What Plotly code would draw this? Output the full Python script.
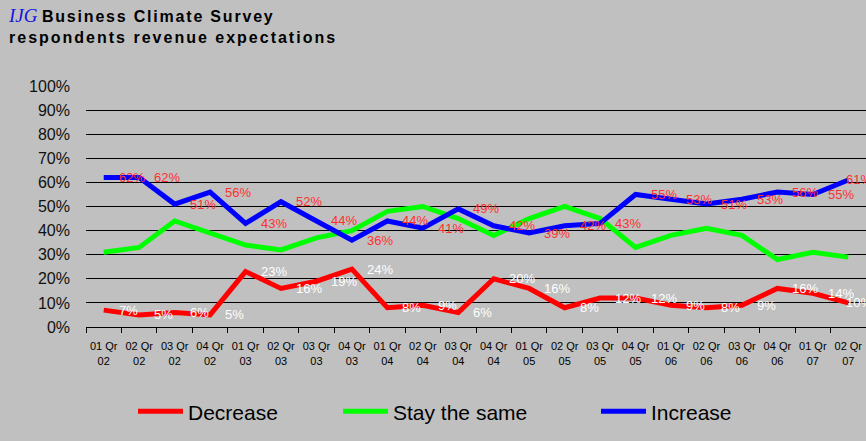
import plotly.graph_objects as go

quarters = ["01 Qr<br>02", "02 Qr<br>02", "03 Qr<br>02", "04 Qr<br>02",
            "01 Qr<br>03", "02 Qr<br>03", "03 Qr<br>03", "04 Qr<br>03",
            "01 Qr<br>04", "02 Qr<br>04", "03 Qr<br>04", "04 Qr<br>04",
            "01 Qr<br>05", "02 Qr<br>05", "03 Qr<br>05", "04 Qr<br>05",
            "01 Qr<br>06", "02 Qr<br>06", "03 Qr<br>06", "04 Qr<br>06",
            "01 Qr<br>07", "02 Qr<br>07"]
decrease = [7, 5, 6, 5, 23, 16, 19, 24, 8, 9, 6, 20, 16, 8, 12, 12, 9, 8, 9, 16, 14, 10]
stay_same = [31, 33, 44, 39, 34, 32, 37, 40, 48, 50, 45, 38, 45, 50, 45, 33, 38, 41, 38, 28, 31, 29]
increase = [62, 62, 51, 56, 43, 52, 44, 36, 44, 41, 49, 42, 39, 42, 43, 55, 53, 51, 53, 56, 55, 61]
y_ticks = [0, 10, 20, 30, 40, 50, 60, 70, 80, 90, 100]

BG = "#C0C0C0"
FONT = "Liberation Sans, Arial, sans-serif"

fig = go.Figure()
fig.add_trace(go.Scatter(x=quarters, y=decrease, mode="lines", name="Decrease",
                         line=dict(color="#FF0000", width=5), legendwidth=145))
fig.add_trace(go.Scatter(x=quarters, y=stay_same, mode="lines", name="Stay the same",
                         line=dict(color="#00FF00", width=5), legendwidth=198))
fig.add_trace(go.Scatter(x=quarters, y=increase, mode="lines", name="Increase",
                         line=dict(color="#0000FF", width=5)))

annotations = []
last = len(quarters) - 1
for series, color in ((increase, "#FF3030"), (decrease, "#FFFFFF")):
    for i, (q, v) in enumerate(zip(quarters, series)):
        # the last labels are pulled in against the chart edge, as in the original
        shift = 13 if i < last else -4
        annotations.append(dict(x=q, y=v, xref="x", yref="y", text=f"{v}%", showarrow=False,
                                xanchor="left", yanchor="middle", xshift=shift,
                                font=dict(family=FONT, size=13, color=color)))

# title
annotations.append(dict(xref="paper", yref="paper", x=(6 - 86) / 780, y=(327 - 16) / 241,
                        xanchor="left", yanchor="middle", showarrow=False,
                        text="<span style='font-family:Liberation Serif, Times New Roman, serif; font-size:19px; color:#1515E0'><i>IJG</i></span> <span style='letter-spacing:1.8px'><b>Business Climate Survey</b></span>",
                        font=dict(family=FONT, size=16, color="#000000")))
annotations.append(dict(xref="paper", yref="paper", x=(7 - 86) / 780, y=(327 - 37) / 241,
                        xanchor="left", yanchor="middle", showarrow=False,
                        text="<span style='letter-spacing:2px'><b>respondents revenue expectations</b></span>",
                        font=dict(family=FONT, size=16, color="#000000")))

fig.update_layout(
    width=866, height=441,
    paper_bgcolor=BG, plot_bgcolor=BG,
    margin=dict(l=86, r=0, t=86, b=114),
    showlegend=True,
    legend=dict(orientation="h", xref="container", yref="container",
                x=133 / 866, y=1 - 411.7 / 441, xanchor="left", yanchor="middle",
                bgcolor="rgba(0,0,0,0)", font=dict(family=FONT, size=21, color="#000000"),
                itemwidth=45, traceorder="normal"),
    annotations=annotations,
    xaxis=dict(type="category", range=[-0.5, len(quarters) - 0.5],
               tickson="boundaries", ticks="outside", ticklen=5,
               tickcolor="#000000", showline=True, linecolor="#000000", linewidth=1,
               showgrid=False, tickangle=0, ticklabelstandoff=9,
               tickfont=dict(family=FONT, size=11, color="#000000")),
    yaxis=dict(range=[0, 100], tickvals=y_ticks, ticktext=[f"{t}%" for t in y_ticks],
               showgrid=True, gridcolor="#000000", gridwidth=1, zeroline=False,
               showline=False, ticks="", ticklabelstandoff=15,
               tickfont=dict(family=FONT, size=16, color="#111111")),
)

fig.write_html("out.html")
